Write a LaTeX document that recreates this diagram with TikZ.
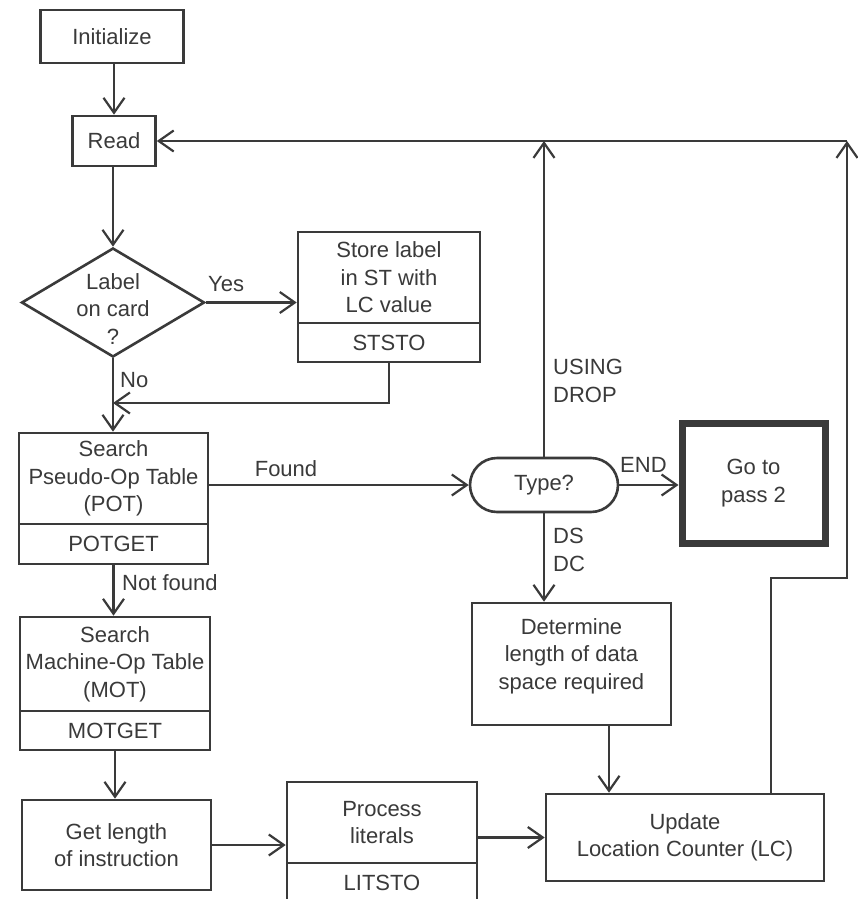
\documentclass[tikz,border=0pt]{standalone}
\usepackage{fontspec}
\setmainfont{Liberation Sans}
\usetikzlibrary{arrows.meta,shapes.geometric}
\definecolor{ink}{RGB}{58,58,58}
\begin{document}
\begin{tikzpicture}[x=1pt,y=-1pt,
  box/.style={draw=ink,line width=2.6pt,rectangle,inner sep=0pt,align=center,text=ink,font=\fontsize{22}{27.5}\selectfont},
  lbl/.style={text=ink,inner sep=0pt,font=\fontsize{22}{27.5}\selectfont,align=left},
  arr/.style={draw=ink,line width=2.2pt,-{Straight Barb[length=15pt,width=21pt]}}]
\path[fill=white] (0,0) rectangle (857,899);
\useasboundingbox (0,0) rectangle (857,899);

% boxes
\node[box,minimum width=143pt,minimum height=53pt] (init) at (112,36.5) {Initialize};
\node[box,minimum width=83pt,minimum height=50pt] (read) at (114,141) {Read};
\node[draw=ink,line width=2.6pt,diamond,minimum width=183pt,minimum height=109pt,inner sep=0pt] (lab) at (113,302.5) {};
\node[lbl,align=center] (labtxt) at (113,309) {Label\\on card\\?};
\node[box,minimum width=182pt,minimum height=91pt] (stsT) at (389,277.5) {Store label\\in ST with\\LC value};
\node[box,minimum width=182pt,minimum height=39pt] (stsB) at (389,342.5) {STSTO};
\node[box,minimum width=189pt,minimum height=91pt] (potT) at (113.5,478.5) {Search\\Pseudo-Op Table\\(POT)};
\node[box,minimum width=189pt,minimum height=40pt] (potB) at (113.5,544) {POTGET};
\node[box,minimum width=190pt,minimum height=94pt] (motT) at (115,664) {Search\\Machine-Op Table\\(MOT)};
\node[box,minimum width=190pt,minimum height=39pt] (motB) at (115,730.5) {MOTGET};
\node[box,minimum width=189pt,minimum height=90pt] (getl) at (116.5,845) {Get length\\of instruction};
\node[box,minimum width=190pt,minimum height=81pt] (procT) at (382,822.5) {Process\\literals};
\node[box,minimum width=190pt,minimum height=40pt] (procB) at (382,883) {LITSTO};
\node[box,rounded corners=27pt,minimum width=148pt,minimum height=54pt] (type) at (544,485) {Type?};
\node[box,line width=7pt,minimum width=143pt,minimum height=120pt] (go2) at (753.5,483) {Go to\\pass 2};
\node[box,minimum width=199pt,minimum height=122pt] (det) at (571.5,664) {};
\node[lbl,align=center] (dettxt) at (571.5,656) {Determine\\length of data\\space required};
\node[box,minimum width=278pt,minimum height=87pt] (upd) at (685,837.5) {Update\\Location Counter (LC)};

% junction coordinates
\coordinate (m1) at (113,403);
\coordinate (tj) at (545,141);
\coordinate (dx) at (609,0);
\coordinate (r1) at (771,578);
\coordinate (r2) at (847,578);
\coordinate (r3) at (847,141);

% connectors
\draw[arr] (read.north |- init.south) -- (read.north);
\draw[arr] (read.south -| lab.north) -- (lab.north);
\draw[arr] (lab.east) -- (lab.east -| stsT.west);
\draw[arr] (stsB.south) |- (m1);
\draw[arr] (lab.south) -- (lab.south |- potT.north);
\draw[arr] (potT.east |- type.west) -- (type.west);
\draw[arr] (potB.south) -- (potB.south |- motT.north);
\draw[arr] (motB.south) -- (motB.south |- getl.north);
\draw[arr] (getl.east) -- (getl.east -| procT.west);
\draw[arr] (procT.east |- upd.west) -- (upd.west);
\draw[arr] (type.north) -- (type.north |- tj);
\draw[arr] (type.east) -- (go2.west |- type.east);
\draw[arr] (type.south) -- (type.south |- det.north);
\draw[arr] (det.south -| dx) -- (upd.north -| dx);
\draw[arr] (upd.north -| r1) -- (r1) -- (r2) -- (r3);
\draw[arr] (r3) -- (read.east |- r3);

% labels
\node[lbl,anchor=west] (yes) at (208,284) {Yes};
\node[lbl,anchor=west] (no) at (120,380) {No};
\node[lbl] (found) at (286,469) {Found};
\node[lbl,anchor=west] (nf) at (122,583) {Not found};
\node[lbl,anchor=west] (using) at (553,381) {USING\\DROP};
\node[lbl,anchor=west] (endl) at (620,465) {END};
\node[lbl,anchor=west] (dsdc) at (553,550) {DS\\DC};
\end{tikzpicture}
\end{document}
